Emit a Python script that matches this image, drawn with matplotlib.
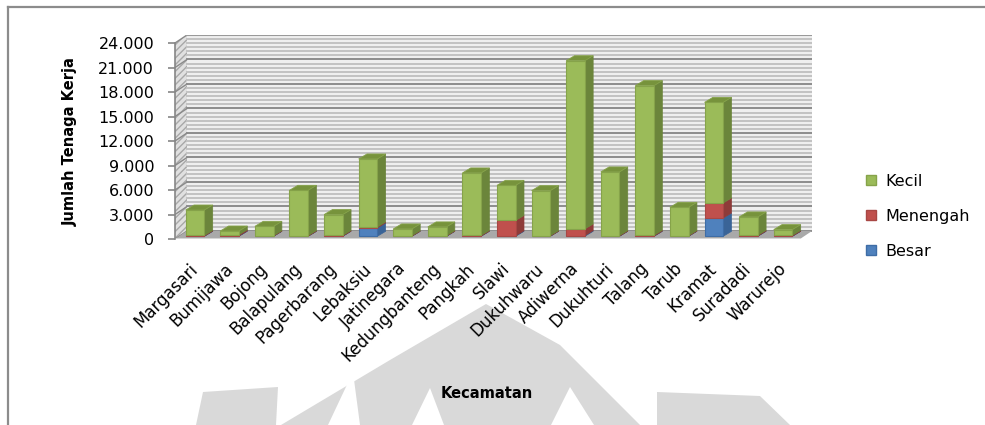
import numpy as np
import matplotlib.pyplot as plt
import matplotlib.transforms as mtransforms
from matplotlib.patches import Polygon, Rectangle, Patch

# data
kecamatan = ['Margasari', 'Bumijawa', 'Bojong', 'Balapulang', 'Pagerbarang', 'Lebaksiu',
             'Jatinegara', 'Kedungbanteng', 'Pangkah', 'Slawi', 'Dukuhwaru', 'Adiwerna',
             'Dukuhturi', 'Talang', 'Tarub', 'Kramat', 'Suradadi', 'Warurejo']
besar = [20, 40, 10, 10, 20, 1020, 10, 10, 20, 60, 10, 80, 10, 20, 20, 2240, 20, 10]
menengah = [80, 150, 60, 70, 80, 120, 60, 60, 80, 1880, 60, 820, 70, 100, 60, 1840, 100, 100]
kecil = [3120, 460, 1150, 5550, 2560, 8330, 830, 1080, 7660, 4300, 5520, 20600, 7800, 18330, 3470, 12320, 2250, 710]
yticks = [0, 3000, 6000, 9000, 12000, 15000, 18000, 21000, 24000]
ytick_labels = ['0', '3.000', '6.000', '9.000', '12.000', '15.000', '18.000', '21.000', '24.000']

series = [('Besar', besar, '#4F81BD', '#3A6497', '#4572A8', '#3E6DA6'),
          ('Menengah', menengah, '#C0504D', '#8E3B39', '#A54542', '#A84744'),
          ('Kecil', kecil, '#9BBB59', '#6B853B', '#77933C', '#86A34A')]

# 3d look parameters (data units)
BAR_W = 0.54
BAR_DX, BAR_DY = 0.24, 612
WALL_DX, WALL_DY = 0.347, 980
DROP = 330
XMIN, XMAX = -0.58, 17.49

fig = plt.figure(figsize=(9.85, 4.25), dpi=100)
ax = fig.add_axes([175 / 985, 1 - 239 / 425, 637 / 985, 204 / 425])
ax.set_xlim(XMIN, XMAX + WALL_DX)
ax.set_ylim(-DROP, 24000 - DROP + WALL_DY)
for s in ax.spines.values():
    s.set_visible(False)

# watermark in the background (pixel coords, y down)
px = mtransforms.Affine2D().scale(1 / 985, -1 / 425).translate(0, 1) + fig.transFigure
wm = '#D9D9D9'
for pts, c in [
    ([(281, 425), (390, 360), (486, 304), (560, 345), (640, 425)], wm),
    ([(196, 425), (203, 392), (278, 387), (276, 425)], wm),
    ([(657, 425), (657, 392), (760, 396), (790, 425)], wm),
    ([(328, 425), (353, 372), (360, 425)], 'white'),
    ([(412, 425), (430, 388), (444, 425)], 'white'),
    ([(551, 425), (570, 387), (594, 425)], 'white'),
]:
    fig.add_artist(Polygon(pts, closed=True, facecolor=c, edgecolor='none', transform=px, zorder=0))

# frame
fig.add_artist(plt.Line2D([8, 985], [7, 7], color='#8C8C8C', lw=1.6, transform=px))
fig.add_artist(plt.Line2D([8, 8], [7, 425], color='#8C8C8C', lw=1.6, transform=px))

# back wall
wx0 = XMIN + WALL_DX
ax.add_patch(Rectangle((wx0, WALL_DY - DROP), XMAX - XMIN, 24000, facecolor='#EFEFEF',
                       edgecolor='none', zorder=1))
for v in np.arange(0, 24000, 500):
    ax.plot([wx0, XMAX + WALL_DX], [v + WALL_DY - DROP] * 2, color='#C2C2C2', lw=1.4, zorder=1.5)
# side wall
ax.add_patch(Polygon([(XMIN, -DROP), (wx0, WALL_DY - DROP), (wx0, 24000 + WALL_DY - DROP),
                      (XMIN, 24000 - DROP)], closed=True, facecolor='#E0E0E0',
                     edgecolor='#A8A8A8', hatch='/////', lw=0, zorder=1))
for v in yticks:
    ax.plot([wx0, XMAX + WALL_DX], [v + WALL_DY - DROP] * 2, color='#8A8A8A', lw=1.3, zorder=1.6)
    ax.plot([XMIN, wx0], [v - DROP, v + WALL_DY - DROP], color='#8A8A8A', lw=1.0, zorder=1.6)
ax.plot([wx0, XMAX + WALL_DX], [24000 + WALL_DY - DROP] * 2, color='#9A9A9A', lw=1.5, zorder=1.6)

# floor
ax.add_patch(Polygon([(XMIN, -DROP), (XMAX, -DROP), (XMAX + WALL_DX, WALL_DY - DROP),
                      (wx0, WALL_DY - DROP)], closed=True, facecolor='#A9A9A9',
                     edgecolor='none', zorder=2))
ax.plot([XMIN, XMAX], [-DROP, -DROP], color='#D6D6D6', lw=1.5, zorder=2.1)

# value axis line
ax.plot([XMIN, XMIN], [-DROP, 24000 - DROP], color='#868686', lw=1.2, zorder=2.2, clip_on=False)

# stacked 3d columns
for i in range(len(kecamatan)):
    x0 = i - BAR_W / 2
    x1 = i + BAR_W / 2
    base = 0
    for k, (name, vals, front, side, top, edge) in enumerate(series):
        h = vals[i]
        z = 3 + i * 0.01
        ax.add_patch(Polygon([(x1, base), (x1 + BAR_DX, base + BAR_DY), (x1 + BAR_DX, base + h + BAR_DY),
                              (x1, base + h)], closed=True, facecolor=side, edgecolor=side,
                             lw=0.5, zorder=z))
        ax.add_patch(Rectangle((x0, base), BAR_W, h, facecolor=front, edgecolor=edge, lw=0.8, zorder=z + 0.001))
        base += h
        if k == len(series) - 1:
            ax.add_patch(Polygon([(x0, base), (x1, base), (x1 + BAR_DX, base + BAR_DY),
                                  (x0 + BAR_DX, base + BAR_DY)], closed=True, facecolor=top,
                                 edgecolor=edge, lw=0.6, zorder=z + 0.002))

# ticks
ax.set_yticks([v - DROP for v in yticks])
ax.set_yticklabels(ytick_labels, fontsize=11.5)
ax.tick_params(axis='y', length=5, width=1.2, color='#868686', pad=10)
ax.set_xticks(range(len(kecamatan)))
ax.set_xticklabels(kecamatan, rotation=45, ha='right', rotation_mode='anchor', fontsize=12)
ax.tick_params(axis='x', length=0, pad=15)
offset = mtransforms.ScaledTranslation(-6 / 100, 0, fig.dpi_scale_trans)
for lab in ax.get_xticklabels():
    lab.set_transform(lab.get_transform() + offset)

fig.text(70 / 985, 1 - 142 / 425, 'Jumlah Tenaga Kerja', rotation=90, fontsize=10.5,
         fontweight='bold', ha='center', va='center')
fig.text(487 / 985, 1 - 393 / 425, 'Kecamatan', fontsize=10.5, fontweight='bold',
         ha='center', va='center')

# legend
handles = [Patch(facecolor=s[2], edgecolor=s[5], label=s[0]) for s in series[::-1]]
fig.legend(handles=handles, loc='upper left', bbox_to_anchor=(866 / 985, 1 - 174 / 425),
           frameon=False, fontsize=11.5, handlelength=0.6, handleheight=0.6,
           handletextpad=0.6, labelspacing=1.25, borderpad=0, borderaxespad=0)

fig.savefig('out.png', dpi=100)
